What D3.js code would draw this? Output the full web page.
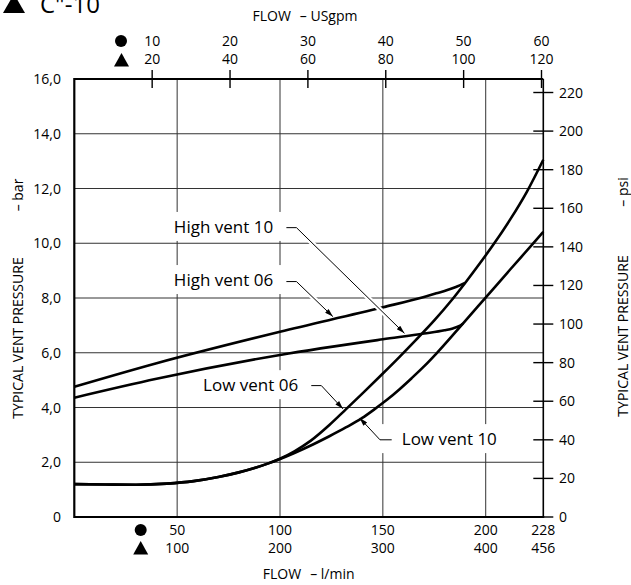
<!DOCTYPE html>
<html><head><meta charset="utf-8">
<script src="https://cdn.jsdelivr.net/npm/d3@7/dist/d3.min.js"></script>
<style>
html,body{margin:0;padding:0;background:#fff;}
svg{display:block;font-family:"Open Sans",sans-serif;}
</style></head><body>
<svg id="chart" width="631" height="585"></svg>
<script>
// ---------- data ----------
const lminTicks = [50, 100, 150, 200, 228];
const lminLabels06 = ["50", "100", "150", "200", "228"];
const lminLabels10 = ["100", "200", "300", "400", "456"];
const gpmTicks = [10, 20, 30, 40, 50, 60];
const gpmLabels06 = ["10", "20", "30", "40", "50", "60"];
const gpmLabels10 = ["20", "40", "60", "80", "100", "120"];
const barTicks = [0, 2, 4, 6, 8, 10, 12, 14, 16];
const barLabels = ["0", "2,0", "4,0", "6,0", "8,0", "10,0", "12,0", "14,0", "16,0"];
const psiTicks = [0, 20, 40, 60, 80, 100, 120, 140, 160, 180, 200, 220];

// series: [flow l/min (● scale), pressure bar]
const lowVent06 = [[0,1.2],[15,1.185],[30,1.18],[45,1.22],[58,1.31],[70,1.46],[80,1.63],[88,1.8],[94,1.95],[100,2.13],[107,2.4],[115,2.79],[124,3.36],[132,3.93],[141,4.58],[150,5.24],[158,5.84],[166,6.46],[175,7.18],[183,7.88],[190,8.55],[197,9.25],[204,9.98],[212,10.88],[220,11.88],[228,13.05]];
const lowVent10 = [[0,1.2],[15,1.185],[30,1.18],[45,1.22],[58,1.31],[70,1.46],[80,1.63],[88,1.8],[94,1.95],[100,2.12],[107,2.34],[116,2.65],[124,2.95],[132,3.27],[140,3.62],[146,3.94],[152,4.28],[158,4.66],[164,5.07],[170,5.5],[176,5.97],[187,6.9],[199,7.93],[212,9.05],[223,9.99],[228,10.42]];
const highVent06 = [[0,4.76],[40,5.62],[100,6.77],[150,7.66],[170,8.04],[176,8.17],[181,8.28],[185.5,8.4],[190,8.55]];
const highVent10 = [[0,4.36],[40,5.05],[100,5.92],[150,6.49],[170,6.7],[180,6.82],[184,6.89],[187,6.97],[189,7.07]];

const seriesList = [lowVent06, lowVent10, highVent06, highVent10];

// annotations: text position, leader start, elbow, arrow tip (flow l/min, bar)
const annotations = [
  {label: "High vent 10", text: [48.4, 10.6], anchor: "start", start: [103.1, 10.57], elbow: [108, 10.57], tip: [160.5, 6.71]},
  {label: "High vent 06", text: [48.4, 8.66], anchor: "start", start: [103.1, 8.6], elbow: [108, 8.6], tip: [125.7, 7.32]},
  {label: "Low vent 06", text: [62.6, 4.82], anchor: "start", start: [115.2, 4.8], elbow: [120.1, 4.8], tip: [130.6, 3.95]},
  {label: "Low vent 10", text: [159.2, 2.85], anchor: "start", start: [154.3, 2.82], elbow: [148.6, 2.82], tip: [138.7, 3.62]}
];

// ---------- layout ----------
const svg = d3.select("#chart");
const L = 74.3, R = 543.3, T = 79, B = 517;
const x = d3.scaleLinear().domain([0, 228]).range([L, R]);
const xg = d3.scaleLinear().domain([0, 228 / 3.78541]).range([L, R]);
const y = d3.scaleLinear().domain([0, 16]).range([B, T]);
const yp = d3.scaleLinear().domain([0, 227]).range([B, T]);

// header (partially cut, as in the source)
svg.append("path").attr("d", "M3,13 L25,13 L14,-6 Z").attr("fill", "#000");
svg.append("text").attr("x", 40).attr("y", 13).attr("font-size", 24).text('C"-10');

// grid
const grid = svg.append("g").attr("stroke", "#333").attr("stroke-width", 1);
grid.selectAll("line.h").data(barTicks.filter(d => d > 0 && d < 16)).join("line")
  .attr("x1", L).attr("x2", R).attr("y1", d => y(d)).attr("y2", d => y(d));
grid.selectAll("line.v").data(lminTicks.filter(d => d < 228)).join("line")
  .attr("y1", T).attr("y2", B).attr("x1", d => x(d)).attr("x2", d => x(d));

// labels with white backgrounds
const labG = svg.append("g");
annotations.forEach(a => {
  const g = labG.append("g");
  const rect = g.append("rect").attr("fill", "#fff");
  const t = g.append("text").attr("x", x(a.text[0])).attr("y", y(a.text[1])).attr("dy", "0.36em")
    .attr("font-size", 17).attr("text-anchor", a.anchor).text(a.label);
  const bb = t.node().getBBox();
  const xs = [bb.x, bb.x + bb.width, x(a.start[0]), x(a.elbow[0])];
  const x0 = d3.min(xs) - 3, x1 = d3.max(xs) + 3;
  rect.attr("x", x0).attr("y", bb.y - 3).attr("width", x1 - x0).attr("height", bb.height + 6);
});

// curves
const line = d3.line().x(d => x(d[0])).y(d => y(d[1])).curve(d3.curveMonotoneX);
svg.append("g").selectAll("path").data(seriesList).join("path")
  .attr("d", line).attr("fill", "none").attr("stroke", "#000").attr("stroke-width", 2.6)
  .attr("stroke-linejoin", "round");

// leaders
const defs = svg.append("defs");
defs.append("marker").attr("id", "arr").attr("viewBox", "0 0 10 6").attr("refX", 10).attr("refY", 3)
  .attr("markerWidth", 10).attr("markerHeight", 5).attr("markerUnits", "userSpaceOnUse").attr("orient", "auto")
  .append("path").attr("d", "M0,0 L10,3 L0,6 Z").attr("fill", "#000");
annotations.forEach(a => {
  const p0 = [x(a.start[0]), y(a.start[1])], p1 = [x(a.elbow[0]), y(a.elbow[1])], p2 = [x(a.tip[0]), y(a.tip[1])];
  const dx = p2[0] - p1[0], dy = p2[1] - p1[1], len = Math.hypot(dx, dy);
  const ph = [p2[0] - dx / len * 12, p2[1] - dy / len * 12];
  svg.append("path").attr("d", `M${p0}L${p1}L${ph}`).attr("fill", "none").attr("stroke", "#fff").attr("stroke-width", 5);
  svg.append("path").attr("d", `M${p0}L${p1}L${p2}`).attr("fill", "none").attr("stroke", "#000").attr("stroke-width", 1)
    .attr("marker-end", "url(#arr)");
});

// frame
const frame = svg.append("g").attr("stroke", "#000").attr("fill", "none");
frame.append("line").attr("x1", L).attr("x2", R).attr("y1", T).attr("y2", T).attr("stroke-width", 2);
frame.append("line").attr("x1", L).attr("x2", R + 1).attr("y1", B).attr("y2", B).attr("stroke-width", 2.2);
frame.append("line").attr("x1", L).attr("x2", L).attr("y1", T - 1).attr("y2", B + 1).attr("stroke-width", 2.2);
frame.append("line").attr("x1", R).attr("x2", R).attr("y1", T).attr("y2", B).attr("stroke-width", 1.6);

// top gpm ticks
frame.selectAll("line.gt").data(gpmTicks).join("line").attr("class", "gt")
  .attr("x1", d => xg(d)).attr("x2", d => xg(d)).attr("y1", T - 9).attr("y2", T + 9).attr("stroke-width", 1.4);
// right psi ticks
frame.selectAll("line.pt").data(psiTicks).join("line").attr("class", "pt")
  .attr("x1", d => d === 0 ? R : R - 10).attr("x2", R + 10).attr("y1", d => yp(d)).attr("y2", d => yp(d)).attr("stroke-width", 1.4);

// tick labels
const fs = 14;
const tl = svg.append("g").attr("font-size", fs).attr("fill", "#000");
tl.selectAll("text.by").data(barTicks).join("text").attr("class", "by")
  .attr("x", 61).attr("y", d => y(d)).attr("dy", "0.36em").attr("text-anchor", "end").text((d, i) => barLabels[i]);
tl.selectAll("text.py").data(psiTicks).join("text").attr("class", "py")
  .attr("x", 559).attr("y", d => yp(d)).attr("dy", "0.36em").attr("text-anchor", "start").text(d => d);
tl.selectAll("text.g1").data(gpmTicks).join("text").attr("class", "g1")
  .attr("x", d => xg(d)).attr("y", 41).attr("dy", "0.36em").attr("text-anchor", "middle").text((d, i) => gpmLabels06[i]);
tl.selectAll("text.g2").data(gpmTicks).join("text").attr("class", "g2")
  .attr("x", d => xg(d)).attr("y", 59).attr("dy", "0.36em").attr("text-anchor", "middle").text((d, i) => gpmLabels10[i]);
tl.selectAll("text.l1").data(lminTicks).join("text").attr("class", "l1")
  .attr("x", d => x(d)).attr("y", 530).attr("dy", "0.36em").attr("text-anchor", "middle").text((d, i) => lminLabels06[i]);
tl.selectAll("text.l2").data(lminTicks).join("text").attr("class", "l2")
  .attr("x", d => x(d)).attr("y", 548).attr("dy", "0.36em").attr("text-anchor", "middle").text((d, i) => lminLabels10[i]);

// series symbols
const sym = svg.append("g").attr("fill", "#000");
[[121, 41], [140.7, 530]].forEach(p => sym.append("circle").attr("cx", p[0]).attr("cy", p[1]).attr("r", 6));
[[121.5, 60], [140.7, 548]].forEach(p => sym.append("path").attr("d", `M${p[0] - 7.5},${p[1] + 6.5}L${p[0] + 7.5},${p[1] + 6.5}L${p[0]},${p[1] - 7}Z`));

// axis titles
const ti = svg.append("g").attr("font-size", fs);
const t1 = ti.append("text").attr("x", 305).attr("y", 16).attr("dy", "0.36em").attr("text-anchor", "middle");
t1.append("tspan").text("FLOW");
t1.append("tspan").attr("dx", 9).text("– USgpm");
const t2 = ti.append("text").attr("x", 308.7).attr("y", 574).attr("dy", "0.36em").attr("text-anchor", "middle");
t2.append("tspan").text("FLOW");
t2.append("tspan").attr("dx", 9).text("– l/min");
[[17.5, 338, "TYPICAL VENT PRESSURE"], [17.5, 195, "– bar"], [623, 336, "TYPICAL VENT PRESSURE"], [623, 192, "– psi"]].forEach(d => {
  ti.append("text").attr("transform", `translate(${d[0]},${d[1]}) rotate(-90)`).attr("dy", "0.36em")
    .attr("text-anchor", "middle").text(d[2]);
});
</script>
</body></html>
